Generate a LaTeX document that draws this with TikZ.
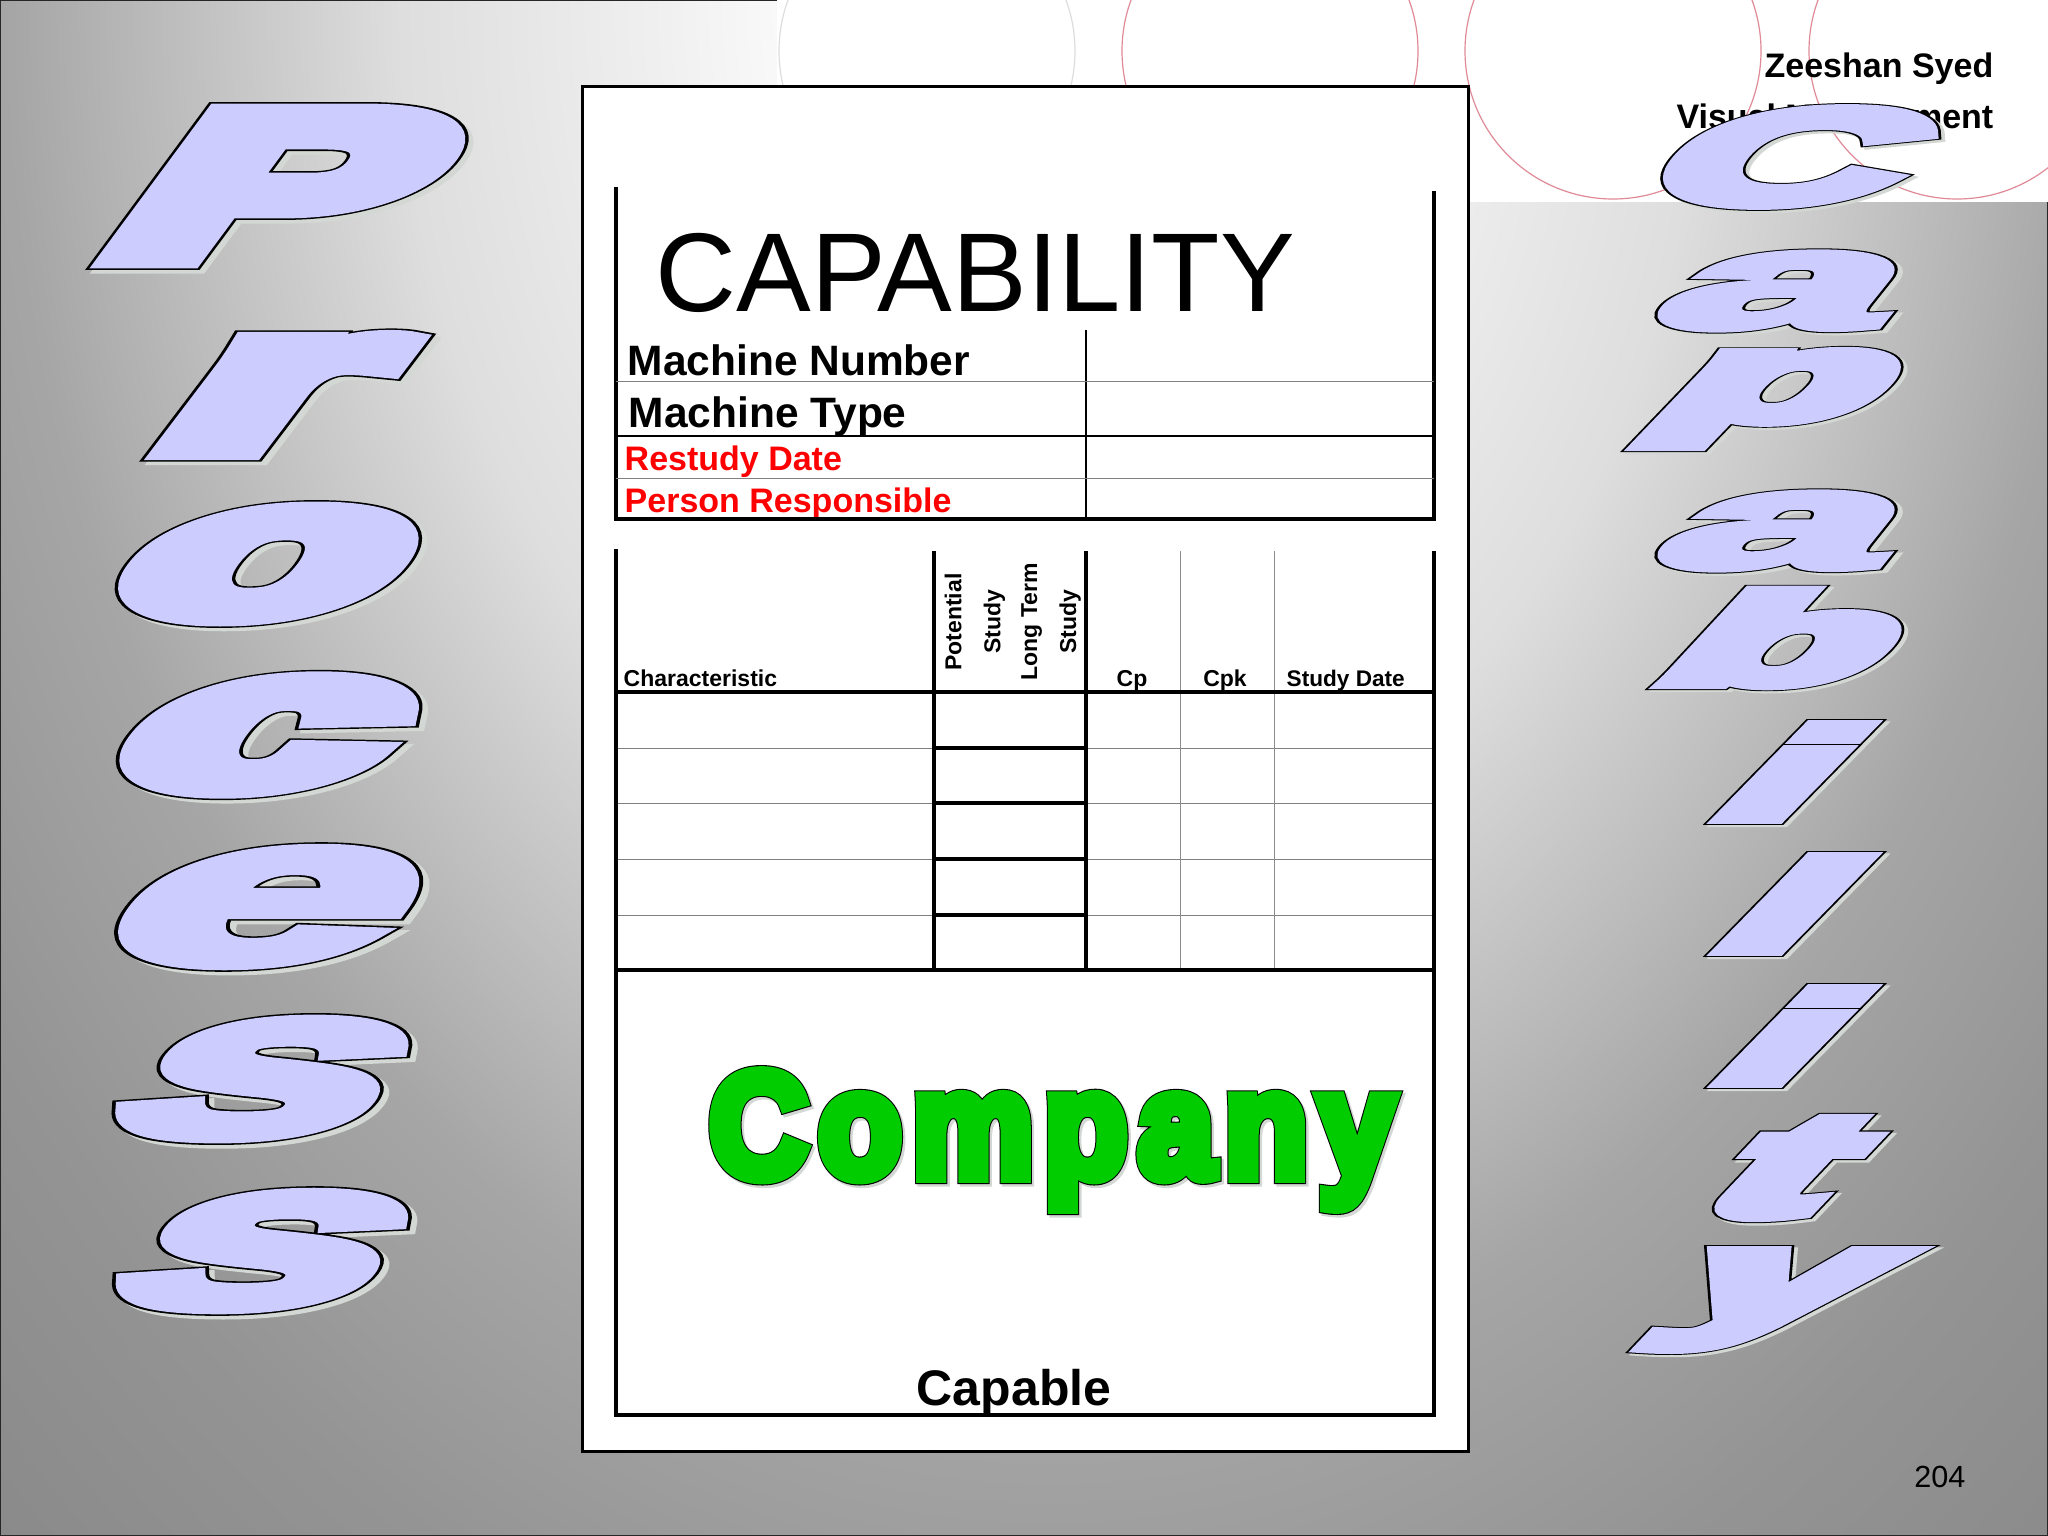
\documentclass[tikz,border=0pt]{standalone}
\usepackage{fontspec}
\usepackage{graphicx}
\setmainfont{Liberation Sans}
\newdimen\pxu
\pxu=.01cm
\definecolor{lavender}{HTML}{CCCCFF}
\definecolor{ringred}{HTML}{E08A98}
\definecolor{ringgray}{HTML}{DDDDDD}
\definecolor{leafgreen}{HTML}{00CC00}
\definecolor{softshadow}{HTML}{D4D8D4}
\pgfdeclareradialshading{softglow}{\pgfpoint{0bp}{0bp}}{
	color(0bp)=(white); color(2.5bp)=(black!2); color(3.75bp)=(black!6); color(6.25bp)=(black!13);
	color(10bp)=(black!35); color(12.5bp)=(black!42); color(15bp)=(black!46);
	color(25bp)=(black!47); color(50bp)=(black!47)}
\newcommand{\pxfont}[2]{\fontsize{#1\pxu}{#2\pxu}\selectfont}
\newcommand{\fatlayer}[3]{{\color{#1}\special{pdf:code 2 Tr #2 w}#3\special{pdf:code 0 Tr}}}
\newcommand{\fatglyph}[3]{\bfseries\fontsize{20pt}{20pt}\selectfont%
  \rlap{\smash{\kern.35pt\raisebox{-.35pt}{\fatlayer{softshadow}{\fpeval{#2+.3}}{#3}}}}%
  \rlap{\fatlayer{black}{\fpeval{#2+.3}}{#3}}%
  \fatlayer{#1}{#2}{#3}}
% name, centre x, centre y, width, height, slant, fatness, letter
\newcommand{\wordletter}[8]{\node[cm={1,0,#6,1,(#2,#3)}, transform shape, inner sep=0] (#1) at (0,0)
  {\resizebox*{#4\pxu}{#5\pxu}{\fatglyph{lavender}{#7}{#8}}};}

\begin{document}
\begin{tikzpicture}[x=.01cm, y=-.01cm,
	hd/.style={inner sep=0, anchor=base west, font=\bfseries\pxfont{#1}{#1}},
	hdr/.style={inner sep=0, anchor=base east, font=\bfseries\pxfont{#1}{#1}},
	hdm/.style={inner sep=0, anchor=base, font=\bfseries\pxfont{#1}{#1}},
	heavy/.style={line width=3.4\pxu}, thinl/.style={black!50, line width=1\pxu}]
	\useasboundingbox (0,0) rectangle (2048,1536);

	% backdrop
	\begin{scope}
		\clip (0,0) rectangle (2048,1536);
		\shade[shading=softglow] (1050,0) ellipse (2600 and 3500);
		\fill[white] (777,0) rectangle (2048,202);
		\draw[ringgray, line width=1.2\pxu] (927,51) circle [radius=148];
		\foreach \cx in {1270,1613,1957}
			\draw[ringred, line width=1.2\pxu] (\cx,51) circle [radius=148];
		\draw[black!85, line width=2.5\pxu] (777,0) -- (0,0) -- (0,1536) -- (2048,1536) -- (2048,202);
	\end{scope}

	\node[hdr=34] (author) at (1994,77) {Zeeshan Syed};
	\node[hdr=34] (topic) at (1994,128) {Visual Management};

	% card
	\draw[black, fill=white, line width=3\pxu] (582,86) rectangle (1468,1451);

	\node[inner sep=0, anchor=base west, font=\pxfont{112}{112}] (title) at (655,311) {CAPABILITY};
	\node[hd=42.5] (mnum) at (627,375) {Machine Number};
	\node[hd=42.5] (mtype) at (628,427) {Machine Type};
	\node[hd=34, text=red] (restudy) at (624,470) {Restudy Date};
	\node[hd=34, text=red] (person) at (624,512) {Person Responsible};

	\draw[heavy] (616,187) -- (616,519) -- (1434,519) -- (1434,191);
	\draw[line width=2.2\pxu] (1086,330) -- (1086,519);
	\draw[thinl] (616,381) -- (1434,381);
	\draw[line width=2.4\pxu] (616,436) -- (1434,436);
	\draw[thinl] (616,478) -- (1434,478);

	% chart
	\foreach \ry in {748,803,859,915} {
		\draw[thinl] (616,\ry) -- (1434,\ry);
		\draw[heavy] (934,\ry) -- (1086,\ry);
	}
	\foreach \cx in {1180,1274}
		\draw[black!45, line width=1\pxu] (\cx,551) -- (\cx,970);
	\draw[heavy] (616,549) -- (616,1415) -- (1434,1415) -- (1434,551);
	\draw[heavy] (934,551) -- (934,970);
	\draw[heavy] (1086,551) -- (1086,970);
	\draw[heavy] (616,692) -- (1434,692);
	\draw[heavy] (616,970) -- (1434,970);

	\node[hd=23] (charac) at (623,686) {Characteristic};
	\node[hdm=23] (cp) at (1132,686) {Cp};
	\node[hdm=23] (cpk) at (1225,686) {Cpk};
	\node[hd=22.6] (sdate) at (1286,686) {Study Date};
	\node[inner sep=0, rotate=90, align=center, font=\bfseries\pxfont{23}{39}] (pot) at (975,622) {Potential\\Study};
	\node[inner sep=0, rotate=90, align=center, font=\bfseries\pxfont{23}{39}] (longt) at (1051,622) {Long Term\\Study};

	\node[inner sep=0, anchor=center] (company) at (1052,1140)
		{\resizebox*{685\pxu}{135\pxu}{\fatglyph{leafgreen}{1.7}{\addfontfeature{LetterSpace=8}Company}}};
	\node[hdm=50] (capable) at (1014,1405) {Capable};

	% word art, left
	\wordletter{p1}{287}{186}{283}{142}{.74}{2.2}{P}
	\wordletter{r1}{277}{395}{181}{108}{.76}{2.2}{r}
	\wordletter{o1}{268}{564}{266}{104}{.75}{2.2}{o}
	\wordletter{c1}{265}{735}{255}{106}{.75}{2.2}{c}
	\wordletter{e1}{268}{907}{285}{113}{.75}{1.3}{e}
	\wordletter{s1}{266}{1079}{262}{116}{.75}{1.2}{s}
	\wordletter{s2}{266}{1251}{262}{114}{.75}{1.2}{s}

	% word art, right
	\wordletter{c2}{1795}{157}{245}{95}{.85}{1.6}{C}
	\wordletter{a1}{1785}{291}{222}{75}{.8}{1.2}{a}
	\wordletter{p2}{1771}{399}{208}{92}{.96}{2}{p}
	\wordletter{a2}{1785}{531}{222}{75}{.8}{1.2}{a}
	\wordletter{b1}{1795}{638}{207}{92}{.93}{2}{b}
	\wordletter{i1}{1795}{772}{94}{93}{.98}{1.7}{i}
	\wordletter{l1}{1795}{904}{94}{93}{.98}{1.7}{l}
	\wordletter{i2}{1795}{1036}{94}{93}{.98}{1.7}{i}
	\wordletter{t1}{1792}{1168}{107}{94}{.95}{2}{t}
	\wordletter{y1}{1770}{1300}{185}{95}{.95}{2}{y}

	\node[inner sep=0, anchor=base east, font=\pxfont{30.6}{30.6}] (pageno) at (1966,1487) {204};
\end{tikzpicture}
\end{document}
